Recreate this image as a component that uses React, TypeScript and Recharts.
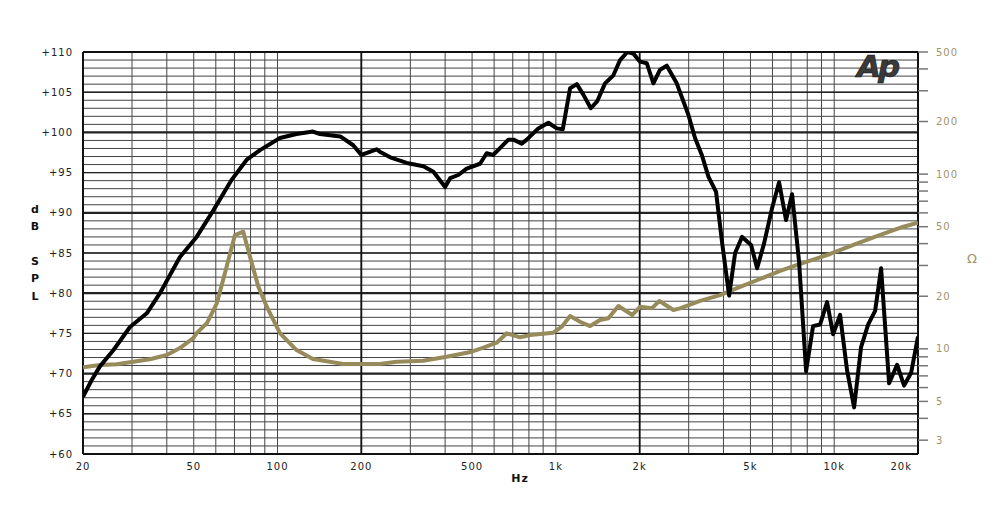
import { LineChart, Line, XAxis, YAxis, CartesianGrid, ReferenceLine } from 'recharts';

// SPL response (black), dB
const splFreq = [20, 21.5, 23, 25.7, 29.5, 33.9, 37.8, 44.6, 51.2, 58.8, 68.4, 77.5, 86.5, 102, 117, 134, 142, 168, 187, 200, 227, 233, 254, 291, 334, 363, 400, 417, 446, 478, 534, 564, 596, 675, 704, 754, 786, 865, 940, 1007, 1059, 1125, 1189, 1255, 1335, 1409, 1502, 1609, 1701, 1807, 1899, 2006, 2122, 2240, 2368, 2503, 2718, 2992, 3162, 3344, 3532, 3763, 3945, 4192, 4405, 4667, 5028, 5284, 5598, 5982, 6338, 6714, 7056, 7478, 7924, 8395, 8895, 9427, 9907, 10499, 11124, 11790, 12490, 13236, 14028, 14738, 15748, 16823, 17825, 18892, 20000];
const splDb = [67.1, 69.2, 70.9, 72.9, 75.8, 77.5, 80.0, 84.5, 87.0, 90.3, 94.1, 96.6, 97.8, 99.3, 99.8, 100.1, 99.8, 99.5, 98.4, 97.2, 97.9, 97.6, 96.9, 96.2, 95.8, 95.1, 93.2, 94.3, 94.7, 95.5, 96.1, 97.4, 97.2, 99.1, 99.1, 98.6, 99.1, 100.5, 101.2, 100.5, 100.4, 105.5, 106.0, 104.7, 103.0, 103.9, 106.1, 107.1, 109.0, 110.0, 109.8, 108.8, 108.6, 106.1, 107.8, 108.3, 106.1, 102.2, 99.3, 97.2, 94.5, 92.6, 86.6, 79.7, 85.0, 87.0, 86.0, 83.1, 86.2, 90.6, 93.8, 89.1, 92.3, 83.9, 70.3, 75.9, 76.1, 78.9, 74.9, 77.3, 70.4, 65.8, 73.3, 76.1, 77.8, 83.1, 68.8, 71.1, 68.5, 70.1, 74.6];

// impedance (khaki), ohms
const ohmFreq = [20, 23, 26.4, 30.3, 34.8, 40, 44.6, 49.8, 51.2, 55.7, 60.5, 64.7, 70.3, 75.3, 79.6, 85.3, 91.5, 102, 117, 134, 154, 172, 203, 233, 268, 334, 405, 499, 549, 613, 666, 744, 808, 979, 1050, 1125, 1221, 1327, 1441, 1544, 1677, 1882, 2006, 2210, 2354, 2644, 2794, 3296, 3890, 4590, 5416, 6392, 7544, 8895, 9668, 11722, 14224, 17724, 20000];
const ohmVal = [7.84, 8.08, 8.15, 8.44, 8.71, 9.21, 10.1, 11.5, 12.3, 14.0, 18.2, 27.1, 44.8, 46.8, 33.7, 22.7, 17.4, 12.3, 9.84, 8.74, 8.44, 8.19, 8.19, 8.19, 8.44, 8.55, 9.01, 9.63, 10.15, 10.84, 12.27, 11.64, 11.99, 12.36, 13.38, 15.41, 14.29, 13.5, 14.62, 14.95, 17.58, 15.62, 17.4, 17.05, 18.78, 16.68, 17.05, 18.8, 20.3, 22.6, 25.1, 27.9, 30.6, 33.4, 34.9, 39.3, 44.2, 50.0, 52.7];

const freqGrid = [20, 30, 40, 50, 60, 70, 80, 90, 100, 200, 300, 400, 500, 600, 700, 800, 900, 1000, 2000, 3000, 4000, 5000, 6000, 7000, 8000, 9000, 10000, 20000];
const freqLabels: Record<number, string> = { 20: '20', 50: '50', 100: '100', 200: '200', 500: '500', 1000: '1k', 2000: '2k', 5000: '5k', 10000: '10k', 20000: '20k' };
const dbTicks = Array.from({ length: 51 }, (_, i) => 60 + i);
const ohmTicks = [3, 4, 5, 6, 7, 8, 9, 10, 20, 30, 40, 50, 60, 70, 80, 90, 100, 200, 300, 400, 500];
const ohmLabels = [3, 5, 10, 20, 50, 100, 200, 500];

const splData = splFreq.map((f, i) => ({ f, db: splDb[i] }));
const ohmData = ohmFreq.map((f, i) => ({ f, ohm: ohmVal[i] }));

const FONT = '"DejaVu Sans", "Liberation Sans", Arial, sans-serif';
const KHAKI = '#978b5c';
const KHAKI_TXT = '#a09467';

const FreqTick = (props: any) => {
  const { x, y, payload } = props;
  const lbl = freqLabels[payload.value];
  if (!lbl) return null;
  const last = payload.value === 20000;
  return (
    <text x={last ? x - 6 : x} y={y} dy="0.71em" textAnchor={last ? 'end' : 'middle'}
      fontSize={10} letterSpacing={1} fontFamily={FONT} fill="#222">{lbl}</text>
  );
};

export default function App() {
  return (
    <div style={{ position: 'absolute', left: 0, top: 0, width: 1000, height: 521, background: '#fff' }}>
      <LineChart width={1000} height={521} margin={{ top: 52, right: 0, bottom: 0, left: 0 }}>
        <CartesianGrid yAxisId="spl" stroke="#444" strokeWidth={1} />
        <XAxis dataKey="f" type="number" scale="log" domain={[20, 20000]} ticks={freqGrid}
          allowDataOverflow height={67} tickSize={6} tickMargin={3} tickLine={false} axisLine={false}
          tick={<FreqTick />} interval={0} />
        <YAxis yAxisId="spl" domain={[60, 110]} ticks={dbTicks} allowDataOverflow width={83}
          tickSize={8} tickMargin={2} tickLine={false} axisLine={false} interval={0}
          tickFormatter={(v: number) => (v % 5 === 0 ? `+${v}` : '')}
          tick={{ fontSize: 10, fill: '#222', fontFamily: FONT, letterSpacing: 1 }} />
        <YAxis yAxisId="ohm" orientation="right" scale="log" domain={[2.5, 500]} ticks={ohmTicks}
          allowDataOverflow width={82} tickSize={10} tickMargin={8} axisLine={false} interval={0}
          tickLine={{ stroke: '#777', strokeWidth: 1.5 }}
          tickFormatter={(v: number) => (ohmLabels.includes(v) ? String(v) : '')}
          tick={{ fontSize: 10, fill: KHAKI_TXT, fontFamily: FONT, letterSpacing: 1, textAnchor: 'start' }} />
        {[65, 75, 85, 95, 105].map((v) => (
          <ReferenceLine key={`m${v}`} yAxisId="spl" y={v} stroke="#222" strokeWidth={1.4} />
        ))}
        {[70, 80, 90, 100].map((v) => (
          <ReferenceLine key={`M${v}`} yAxisId="spl" y={v} stroke="#222" strokeWidth={2.2} />
        ))}
        {[200, 2000].map((v) => (
          <ReferenceLine key={`x${v}`} yAxisId="spl" x={v} stroke="#111" strokeWidth={1.8} />
        ))}
        {[60, 110].map((v) => (
          <ReferenceLine key={`b${v}`} yAxisId="spl" y={v} stroke="#111" strokeWidth={2} />
        ))}
        {[20, 20000].map((v) => (
          <ReferenceLine key={`bx${v}`} yAxisId="spl" x={v} stroke="#111" strokeWidth={2} />
        ))}
        <Line data={ohmData} dataKey="ohm" yAxisId="ohm" type="linear" stroke={KHAKI} strokeWidth={4}
          dot={false} isAnimationActive={false} strokeLinejoin="round" />
        <Line data={splData} dataKey="db" yAxisId="spl" type="linear" stroke="#000" strokeWidth={4}
          dot={false} isAnimationActive={false} strokeLinejoin="round" />
      </LineChart>
      <svg width={1000} height={521} style={{ position: 'absolute', left: 0, top: 0, pointerEvents: 'none' }}>
        <g fontFamily={FONT} fontWeight="bold" fontSize={11} fill="#111" textAnchor="middle">
          <text x={35} y={213}>d</text>
          <text x={35} y={230}>B</text>
          <text x={35} y={265}>S</text>
          <text x={35} y={282}>P</text>
          <text x={35} y={300}>L</text>
          <text x={520} y={482} letterSpacing={1}>Hz</text>
        </g>
        <text x={972} y={263} fontFamily={FONT} fontSize={13} fill={KHAKI_TXT} textAnchor="middle">Ω</text>
        <text x={857} y={77} fontFamily={FONT} fontSize={31} fontWeight="bold" fontStyle="italic"
          fill="#3a3a3a" stroke="#111" strokeWidth={0.6} letterSpacing={-3}>Ap</text>
      </svg>
    </div>
  );
}
